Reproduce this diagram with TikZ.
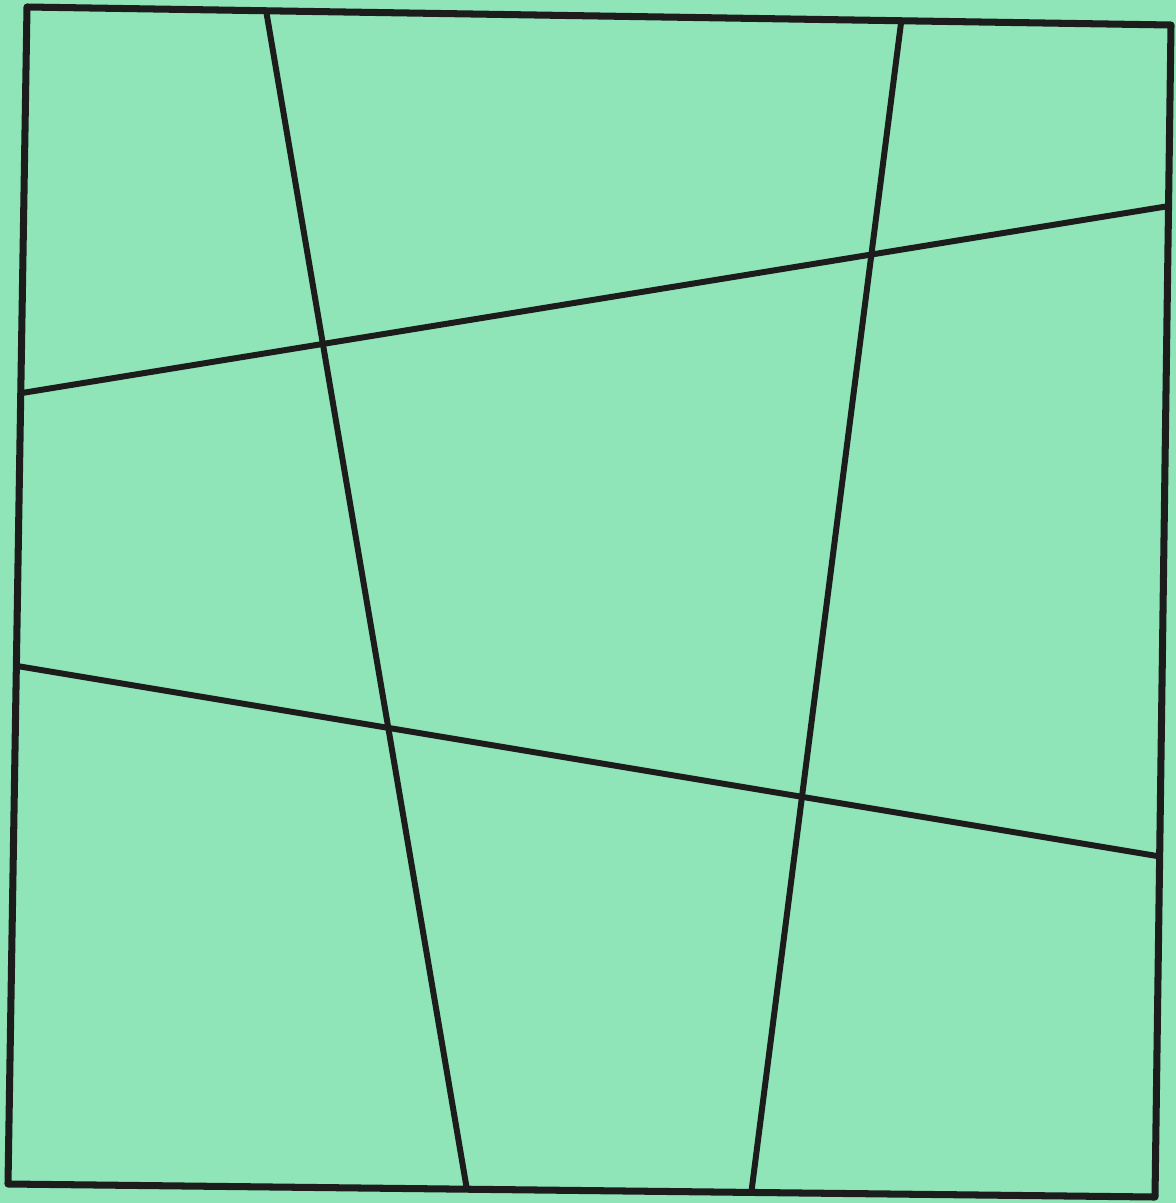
\documentclass[tikz,border=0pt]{standalone}
\usetikzlibrary{calc}
\definecolor{paperGreen}{HTML}{8FE5B7}
\definecolor{inkBlack}{HTML}{1C1C1C}
\tikzset{
    frame/.style={draw=inkBlack,line width=2.0pt,line join=round},
    cutline/.style={draw=inkBlack,line width=1.7pt,line cap=butt}
}
\begin{document}
\begin{tikzpicture}[x=0.01cm,y=-0.01cm]
        % background sheet
        \fill[paperGreen] (0,0) rectangle (1176,1203);
        \useasboundingbox (0,0) rectangle (1176,1203);

        % outer frame corners
        \coordinate (tl) at (27,7);
        \coordinate (tr) at (1171,25);
        \coordinate (br) at (1155,1197);
        \coordinate (bl) at (8,1184);
        \draw[frame] (tl) -- (tr) -- (br) -- (bl) -- cycle;

        % two near-vertical cuts, top to bottom
        \coordinate (aTop) at (266,10);
        \coordinate (aBot) at (467,1190);
        \coordinate (bTop) at (901,23);
        \coordinate (bBot) at (751,1195);
        \draw[cutline] (aTop) -- (aBot);
        \draw[cutline] (bTop) -- (bBot);

        % two near-horizontal cuts, left to right
        \coordinate (cLeft) at (22,393);
        \coordinate (cRight) at (1169,206);
        \coordinate (dLeft) at (17,666);
        \coordinate (dRight) at (1157,856);
        \draw[cutline] (cLeft) -- (cRight);
        \draw[cutline] (dLeft) -- (dRight);

    \end{tikzpicture}
\end{document}
